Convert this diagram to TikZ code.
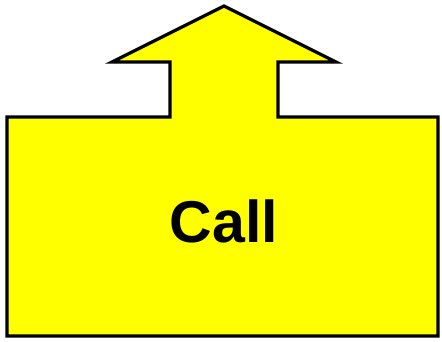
\documentclass[tikz,border=0pt]{standalone}
\usepackage{fontspec}
\setmainfont{Liberation Sans}
\usepackage{tikz}
\definecolor{callyellow}{RGB}{255,255,0}

\begin{document}
\begin{tikzpicture}[x=1pt,y=-1pt]
\useasboundingbox (0,0) rectangle (442,341);
\draw[line width=3.2pt,line join=miter,fill=callyellow] (7,117) -- (170,117) -- (170,62) -- (112,62) -- (224,6) -- (336,62) -- (278,62) -- (278,117) -- (438,117) -- (438,336) -- (7,336) -- cycle;
\node[font=\fontsize{59}{62}\selectfont\bfseries,inner sep=0pt,anchor=base] (call) at (224,242) {Call};
\end{tikzpicture}
\end{document}
